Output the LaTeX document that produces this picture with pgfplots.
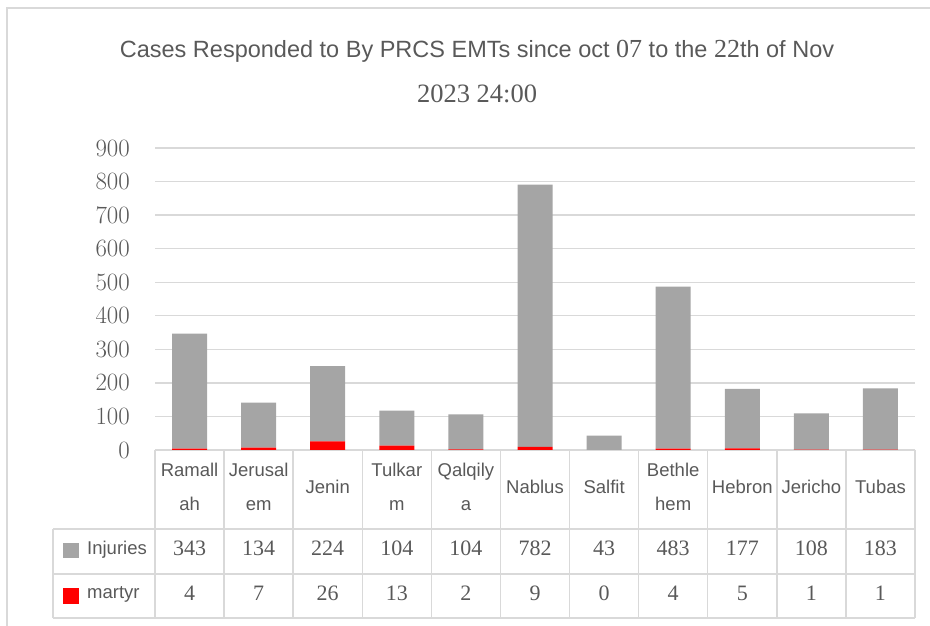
\documentclass[border=0pt]{standalone}
\usepackage{pgfplots}
\pgfplotsset{compat=1.18}
\usepackage{pgfplotstable}
\usepackage{fontspec}
\setmainfont{Liberation Sans}
\newfontfamily\serif{Liberation Serif}
\definecolor{txt}{HTML}{595959}
\definecolor{gridc}{HTML}{D9D9D9}
\definecolor{bargray}{HTML}{A5A5A5}
\definecolor{barred}{HTML}{FF0000}
\pgfplotstableread{
x inj mar
0 343 4
1 134 7
2 224 26
3 104 13
4 104 2
5 782 9
6 43 0
7 483 4
8 177 5
9 108 1
10 183 1
}\datatable
\begin{document}
\begin{tikzpicture}[x=1pt,y=1pt]
\useasboundingbox (0,0) rectangle (930,626);
\draw[gridc, line width=2pt] (7,0) -- (7,618) -- (930,618);
\begin{axis}[
  at={(155pt,176pt)}, anchor=south west,
  scale only axis, width=760pt, height=302pt,
  xmin=-0.5, xmax=10.5, ymin=0, ymax=900,
  ytick={0,100,...,900}, xtick=\empty,
  ymajorgrids, grid style={gridc, line width=1.3pt},
  axis line style={draw=none}, major tick length=0pt,
  yticklabel style={font=\serif\fontsize{23}{23}\selectfont, text=txt, anchor=east, inner sep=0pt, xshift=-25pt},
  ybar stacked, bar width=35pt,
  clip=false,
]
\addplot[fill=barred, draw=none] table[x=x,y=mar]{\datatable};
\addplot[fill=bargray, draw=none] table[x=x,y=inj]{\datatable};
\end{axis}
% table grid
\begin{scope}[gridc, line width=1.5pt]
\foreach \y in {97,52,8} \draw (53,\y) -- (914.5,\y);
\draw (53,97) -- (53,8);
\foreach \k in {0,...,11} \draw ({155+69.0909*\k},176) -- ({155+69.0909*\k},8);
\end{scope}
% category labels
\begin{scope}[every node/.style={text=txt, font=\fontsize{18.5}{18.5}\selectfont, inner sep=0pt, anchor=base}]
\foreach \k/\a/\b in {0/Ramall/ah, 1/Jerusal/em, 3/Tulkar/m, 4/Qalqily/a, 7/Bethle/hem} {
  \node at ({155+69.0909*(\k+0.5)},149) {\a};
  \node at ({155+69.0909*(\k+0.5)},115) {\b};
}
\foreach \k/\a in {2/Jenin, 5/Nablus, 6/Salfit, 8/Hebron, 9/Jericho, 10/Tubas} {
  \node at ({155+69.0909*(\k+0.5)},132) {\a};
}
\node[anchor=base west] at (87,71) {Injuries};
\node[anchor=base west] at (87,27) {martyr};
\end{scope}
\fill[bargray] (63,68) rectangle (79,83);
\fill[barred] (63,22) rectangle (79,38);
% values
\begin{scope}[every node/.style={text=txt, font=\serif\fontsize{22}{22}\selectfont, inner sep=0pt, anchor=base}]
\pgfplotstablegetrowsof{\datatable}
\pgfmathtruncatemacro{\nrows}{\pgfplotsretval-1}
\foreach \k in {0,...,\nrows} {
  \pgfplotstablegetelem{\k}{inj}\of{\datatable}
  \node at ({155+69.0909*(\k+0.5)},70) {\pgfplotsretval};
  \pgfplotstablegetelem{\k}{mar}\of{\datatable}
  \node at ({155+69.0909*(\k+0.5)},25) {\pgfplotsretval};
}
\end{scope}
% title
\node[text=txt, font=\fontsize{23.5}{23.5}\selectfont, inner sep=0pt, anchor=base] at (477,568)
  {Cases Responded to By PRCS EMTs since oct {\serif\fontsize{26}{26}\selectfont 07} to the {\serif\fontsize{26}{26}\selectfont 22}th of Nov};
\node[text=txt, font=\serif\fontsize{26.5}{26.5}\selectfont, inner sep=0pt, anchor=base] at (477,523) {2023 24:00};
\end{tikzpicture}
\end{document}
